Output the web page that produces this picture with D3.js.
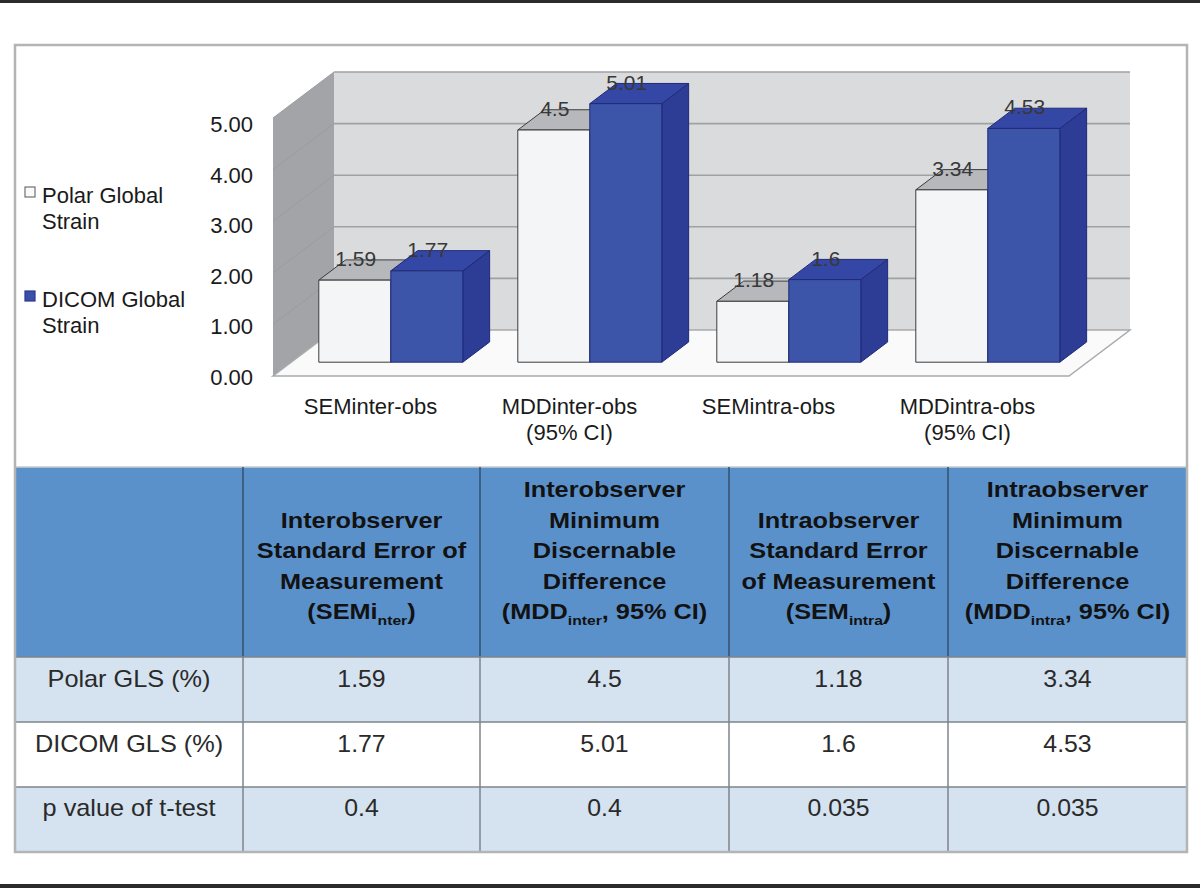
<!DOCTYPE html>
<html><head><meta charset="utf-8">
<script src="https://cdn.jsdelivr.net/npm/d3@7"></script>
<style>
body{margin:0;background:#fff}
svg{display:block}
text{font-family:"Liberation Sans",Arial,Helvetica,sans-serif}
</style>
</head><body>
<svg id="c" width="1200" height="888"></svg>
<script>
// ---------- data ----------
const categories = [["SEMinter-obs"], ["MDDinter-obs", "(95% CI)"], ["SEMintra-obs"], ["MDDintra-obs", "(95% CI)"]];
const seriesNames = [["Polar Global", "Strain"], ["DICOM Global", "Strain"]];
const polar = [1.59, 4.5, 1.18, 3.34];
const dicom = [1.77, 5.01, 1.6, 4.53];
const yTicks = [0, 1, 2, 3, 4, 5];
const pValues = [0.4, 0.4, 0.035, 0.035];
const rowLabels = ["Polar GLS (%)", "DICOM GLS (%)", "p value of t-test"];
const headers = [
  ["Interobserver", "Standard Error of", "Measurement", "(SEMi_{nter})"],
  ["Interobserver", "Minimum", "Discernable", "Difference", "(MDD_{inter}, 95% CI)"],
  ["Intraobserver", "Standard Error", "of Measurement", "(SEM_{intra})"],
  ["Intraobserver", "Minimum", "Discernable", "Difference", "(MDD_{intra}, 95% CI)"]
];

const svg = d3.select("#c");

// page rules
svg.append("rect").attr("x", 0).attr("y", 0).attr("width", 1200).attr("height", 3).attr("fill", "#2b2b2b");
svg.append("rect").attr("x", 0).attr("y", 884).attr("width", 1200).attr("height", 4).attr("fill", "#2b2b2b");

// ---------- 3D chart ----------
const X0 = 273, X1 = 1069, FY = 376, DX = 61, DY = -46;
const x = d3.scaleBand().domain(d3.range(categories.length)).range([X0, X1]);
const h = d3.scaleLinear().domain([0, 5]).range([0, 258]);
const BY = FY + DY; // back wall baseline
const chart = svg.append("g");
const poly = pts => pts.map(p => p.join(",")).join(" ");

// back wall
chart.append("polygon")
  .attr("points", poly([[X0 + DX, BY], [X1 + DX, BY], [X1 + DX, BY - h(5)], [X0 + DX, BY - h(5)]]))
  .attr("fill", "#dadbdd");
// left wall
chart.append("polygon")
  .attr("points", poly([[X0, FY], [X0 + DX, BY], [X0 + DX, BY - h(5)], [X0, FY - h(5)]]))
  .attr("fill", "#a2a4a7");
// floor
chart.append("polygon")
  .attr("points", poly([[X0, FY], [X1, FY], [X1 + DX, BY], [X0 + DX, BY]]))
  .attr("fill", "#fafafa").attr("stroke", "#a9aaac").attr("stroke-width", 1.5);
// gridlines
yTicks.filter(v => v > 0).forEach(v => {
  chart.append("line").attr("x1", X0 + DX).attr("x2", X1 + DX)
    .attr("y1", BY - h(v)).attr("y2", BY - h(v))
    .attr("stroke", "#a0a1a3").attr("stroke-width", 1.6);
  chart.append("line").attr("x1", X0).attr("x2", X0 + DX)
    .attr("y1", FY - h(v)).attr("y2", BY - h(v))
    .attr("stroke", "#9a9c9f").attr("stroke-width", 1);
});

// bars
const f1 = 0.3, f2 = 0.74, barW = 72;
const ddx = DX * (f2 - f1), ddy = DY * (f2 - f1);
const baseY = FY + DY * f1;
const styles = [
  {front: "#f4f5f7", top: "#b6b8bb", side: "#c9cacd", stroke: "#3c3c3c"},
  {front: "#3d55a8", top: "#3547a4", side: "#2d3c94", stroke: "#1f2a78"}
];
const labels = [];
categories.forEach((c, i) => {
  const cx = x(i) + x.bandwidth() / 2 + DX * f1;
  [polar[i], dicom[i]].forEach((v, s) => {
    const st = styles[s];
    const bx = cx - barW + s * barW;
    const top = baseY - h(v);
    const g = chart.append("g").attr("stroke", st.stroke).attr("stroke-width", 1).attr("stroke-linejoin", "round");
    g.append("polygon").attr("points", poly([[bx + barW, top], [bx + barW + ddx, top + ddy], [bx + barW + ddx, baseY + ddy], [bx + barW, baseY]]))
      .attr("fill", st.side);
    g.append("polygon").attr("points", poly([[bx, top], [bx + barW, top], [bx + barW + ddx, top + ddy], [bx + ddx, top + ddy]]))
      .attr("fill", st.top);
    g.append("rect").attr("x", bx).attr("y", top).attr("width", barW).attr("height", h(v))
      .attr("fill", st.front);
    labels.push({x: bx + barW / 2 + 1, y: top - 14, v});
  });
});
chart.selectAll("text.val").data(labels).join("text").attr("class", "val")
  .attr("x", d => d.x).attr("y", d => d.y).attr("text-anchor", "middle")
  .attr("font-size", 21).attr("fill", "#383838").text(d => String(d.v));

// y axis
const ys = d3.scaleLinear().domain([0, 5]).range([377, 124.5]);
const ax = svg.append("g").attr("transform", "translate(253,0)")
  .call(d3.axisLeft(ys).tickValues(yTicks).tickSize(0).tickPadding(0).tickFormat(d3.format(".2f")));
ax.select(".domain").remove();
ax.selectAll("text").attr("font-size", 22).attr("fill", "#1a1a1a")
  .attr("font-family", "'Liberation Sans',Arial,sans-serif");

// x labels
categories.forEach((lines, i) => {
  lines.forEach((t, k) => {
    svg.append("text").attr("x", x(i) + x.bandwidth() / 2 - 2).attr("y", 414 + k * 26)
      .attr("text-anchor", "middle").attr("font-size", 22).attr("fill", "#1a1a1a").text(t);
  });
});

// legend
const legY = [187, 291];
seriesNames.forEach((lines, s) => {
  svg.append("rect").attr("x", 25).attr("y", legY[s]).attr("width", 10).attr("height", 10)
    .attr("fill", s === 0 ? "#fafafa" : "#3a4fa8").attr("stroke", s === 0 ? "#707070" : "#2a3890").attr("stroke-width", 1.2);
  lines.forEach((t, k) => {
    svg.append("text").attr("x", 42).attr("y", legY[s] + 16 + k * 26)
      .attr("font-size", 22).attr("fill", "#1a1a1a").text(t);
  });
});

// ---------- table ----------
const cols = [15, 243, 480, 729, 948, 1187];
const rowsY = [467, 657, 722, 787, 852];
const tbl = svg.append("g");
tbl.append("rect").attr("x", cols[0]).attr("y", rowsY[0]).attr("width", cols[5] - cols[0]).attr("height", rowsY[1] - rowsY[0]).attr("fill", "#5b91cb");
const rowFill = ["#d5e2f0", "#ffffff", "#d5e2f0"];
rowFill.forEach((f, r) => {
  tbl.append("rect").attr("x", cols[0]).attr("y", rowsY[r + 1]).attr("width", cols[5] - cols[0]).attr("height", rowsY[r + 2] - rowsY[r + 1]).attr("fill", f);
});
tbl.append("line").attr("x1", cols[0]).attr("x2", cols[5]).attr("y1", rowsY[0]).attr("y2", rowsY[0]).attr("stroke", "#c9ccd0").attr("stroke-width", 1.5);
cols.slice(1, 5).forEach(cx => {
  tbl.append("line").attr("x1", cx).attr("x2", cx).attr("y1", rowsY[0]).attr("y2", rowsY[1]).attr("stroke", "#34506f").attr("stroke-width", 1.5);
  tbl.append("line").attr("x1", cx).attr("x2", cx).attr("y1", rowsY[1]).attr("y2", rowsY[4]).attr("stroke", "#7c848d").attr("stroke-width", 1.5);
});
rowsY.slice(1, 4).forEach(yy => {
  tbl.append("line").attr("x1", cols[0]).attr("x2", cols[5]).attr("y1", yy).attr("y2", yy).attr("stroke", "#7c848d").attr("stroke-width", 1.5);
});

function addLine(g, str, cx, y, size, weight, sx, fill) {
  const t = g.append("text").attr("transform", `translate(${cx},${y}) scale(${sx},1)`)
    .attr("text-anchor", "middle").attr("font-size", size).attr("font-weight", weight).attr("fill", fill);
  const parts = str.split(/(_\{[^}]*\})/).filter(p => p.length);
  let sub = false;
  parts.forEach(p => {
    if (p.startsWith("_{")) {
      t.append("tspan").attr("font-size", size * 0.62).attr("dy", 6).text(p.slice(2, -1));
      sub = true;
    } else {
      const ts = t.append("tspan").text(p);
      if (sub) { ts.attr("dy", -6); sub = false; }
    }
  });
}
headers.forEach((lines, j) => {
  const cx = (cols[j + 1] + cols[j + 2]) / 2;
  const n = lines.length;
  lines.forEach((s, k) => addLine(tbl, s, cx, 619 - (n - 1 - k) * 30.5, 22, "bold", 1.15, "#121212"));
});
const bodyBase = [687, 752, 816];
const rowsData = [polar.map(String), dicom.map(String), pValues.map(String)];
rowLabels.forEach((lab, r) => {
  addLine(tbl, lab, (cols[0] + cols[1]) / 2, bodyBase[r], 23, "normal", 1.1, "#2a2a2a");
  rowsData[r].forEach((v, j) => addLine(tbl, v, (cols[j + 1] + cols[j + 2]) / 2, bodyBase[r], 23, "normal", 1.08, "#2a2a2a"));
});

// outer frame
svg.append("rect").attr("x", 15).attr("y", 45).attr("width", 1172).attr("height", 807)
  .attr("fill", "none").attr("stroke", "#b3b4b6").attr("stroke-width", 2.5);
</script>
</body></html>
